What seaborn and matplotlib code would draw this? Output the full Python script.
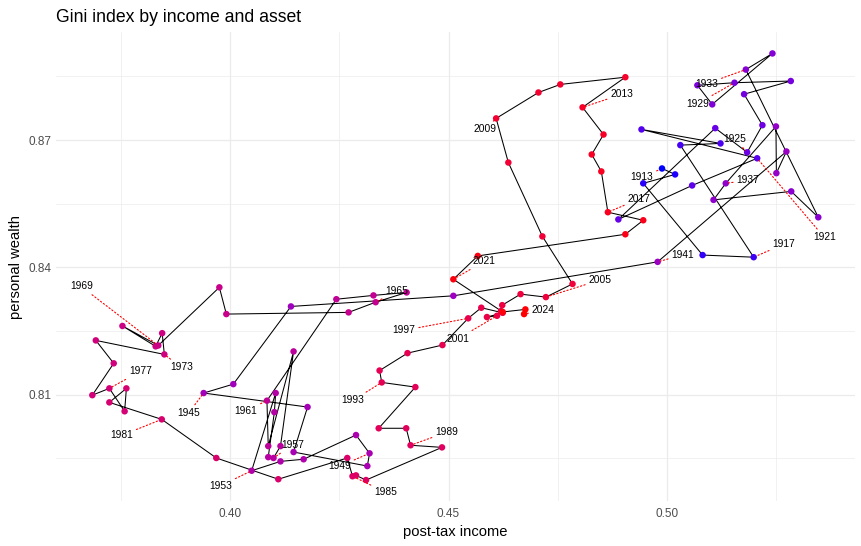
import numpy as np
import pandas as pd
import matplotlib
matplotlib.use('Agg')
import matplotlib.pyplot as plt
import seaborn as sns
from matplotlib.colors import LinearSegmentedColormap

# Datos: indice de Gini (renta post-impuestos vs patrimonio personal), 1913-2024
years = list(range(1913, 2025))

income = [
    0.4989, 0.5019, 0.4946, 0.5082, 0.5199, 0.5031, 0.5123, 0.4942, 0.5207, 0.5058,
    0.4889, 0.5111, 0.5184, 0.5219, 0.5177, 0.5284, 0.5155, 0.5070, 0.5104, 0.5242,
    0.5181, 0.5347, 0.5285, 0.5107, 0.5135, 0.5250, 0.5251, 0.5274, 0.4979, 0.4511,
    0.4139, 0.4007, 0.3939, 0.4177, 0.4145, 0.4314, 0.4319, 0.4288, 0.4168, 0.4115,
    0.4049, 0.4104, 0.4101, 0.4087, 0.4099, 0.4115, 0.4145, 0.4087, 0.4084, 0.4243,
    0.4328, 0.4404, 0.4333, 0.4271, 0.3991, 0.3975, 0.3835, 0.3753, 0.3829, 0.3844,
    0.3849, 0.3692, 0.3733, 0.3684, 0.3723, 0.3758, 0.3762, 0.3723, 0.3843, 0.3968,
    0.4110, 0.4268, 0.4280, 0.4288, 0.4311, 0.4485, 0.4413, 0.4403, 0.4340, 0.4424,
    0.4347, 0.4342, 0.4406, 0.4486, 0.4545, 0.4575, 0.4624, 0.4588, 0.4611, 0.4620,
    0.4623, 0.4665, 0.4723, 0.4784, 0.4715, 0.4637, 0.4609, 0.4706, 0.4756, 0.4905,
    0.4807, 0.4855, 0.4828, 0.4850, 0.4865, 0.4946, 0.4905, 0.4567, 0.4511, 0.4624,
    0.4676, 0.4673,
]

wealth = [
    0.8633, 0.8619, 0.8598, 0.8429, 0.8424, 0.8688, 0.8692, 0.8725, 0.8657, 0.8593,
    0.8513, 0.8728, 0.8671, 0.8735, 0.8808, 0.8839, 0.8835, 0.8829, 0.8784, 0.8904,
    0.8866, 0.8518, 0.8579, 0.8559, 0.8598, 0.8732, 0.8622, 0.8673, 0.8413, 0.8333,
    0.8308, 0.8125, 0.8104, 0.8071, 0.7965, 0.7932, 0.7962, 0.8005, 0.7948, 0.7943,
    0.7921, 0.8104, 0.8059, 0.7953, 0.7951, 0.7979, 0.8202, 0.7979, 0.8086, 0.8325,
    0.8334, 0.8341, 0.8318, 0.8294, 0.8290, 0.8353, 0.8216, 0.8262, 0.8214, 0.8245,
    0.8195, 0.8228, 0.8174, 0.8099, 0.8115, 0.8061, 0.8115, 0.8082, 0.8042, 0.7951,
    0.7901, 0.7951, 0.7908, 0.7910, 0.7899, 0.7976, 0.7981, 0.8021, 0.8021, 0.8118,
    0.8129, 0.8157, 0.8198, 0.8217, 0.8280, 0.8305, 0.8293, 0.8283, 0.8286, 0.8297,
    0.8311, 0.8337, 0.8330, 0.8361, 0.8473, 0.8647, 0.8751, 0.8812, 0.8831, 0.8848,
    0.8777, 0.8713, 0.8666, 0.8626, 0.8530, 0.8511, 0.8478, 0.8427, 0.8372, 0.8295,
    0.8301, 0.8290,
]

label_years = list(range(1913, 2024, 4)) + [2024]

# Desplazamiento de cada etiqueta respecto a su punto (pixeles, y hacia arriba)
label_offset = {
    1913: (-20, -9), 1917: (30, 13), 1921: (67, -79), 1925: (-12, 13),
    1929: (-37, -21), 1933: (-39, -14), 1937: (22, 3), 1941: (25, 7),
    1945: (-15, -20), 1949: (-30, -13), 1953: (-31, -15), 1957: (19, 13),
    1961: (-21, -10), 1965: (21, 11), 1969: (-77, 59), 1973: (17, -13),
    1977: (31, 17), 1981: (-40, -16), 1985: (33, -16), 1989: (36, 13),
    1993: (-29, -18), 1997: (-64, -12), 2001: (-39, -23), 2005: (54, 17),
    2009: (-11, -11), 2013: (39, 13), 2017: (31, 13), 2021: (31, 18),
    2024: (19, 4),
}

df = pd.DataFrame({'year': years, 'income': income, 'wealth': wealth})


def lab_gradient(c0, c1, n=256):
    """Gradiente interpolado en Lab (como scale_colour_gradient de ggplot)"""
    M = np.array([[0.4124, 0.3576, 0.1805],
                  [0.2126, 0.7152, 0.0722],
                  [0.0193, 0.1192, 0.9505]])
    white = np.array([0.95047, 1.0, 1.08883])

    def to_lab(rgb):
        rgb = np.asarray(rgb, float)
        lin = np.where(rgb <= 0.04045, rgb / 12.92, ((rgb + 0.055) / 1.055) ** 2.4)
        xyz = M @ lin / white
        f = np.where(xyz > 0.008856, np.cbrt(xyz), 7.787 * xyz + 16 / 116)
        return np.array([116 * f[1] - 16, 500 * (f[0] - f[1]), 200 * (f[1] - f[2])])

    def from_lab(lab):
        fy = (lab[0] + 16) / 116
        f = np.array([fy + lab[1] / 500, fy, fy - lab[2] / 200])
        xyz = np.where(f ** 3 > 0.008856, f ** 3, (f - 16 / 116) / 7.787) * white
        lin = np.clip(np.linalg.inv(M) @ xyz, 0, 1)
        rgb = np.where(lin <= 0.0031308, 12.92 * lin, 1.055 * lin ** (1 / 2.4) - 0.055)
        return np.clip(rgb, 0, 1)

    a, b = to_lab(c0), to_lab(c1)
    cols = [from_lab(a + (b - a) * t) for t in np.linspace(0, 1, n)]
    return LinearSegmentedColormap.from_list('blue_red', cols)


cmap = lab_gradient((0, 0, 1), (1, 0, 0))

sns.set_theme(style='whitegrid')
plt.rcParams['font.family'] = ['Liberation Sans', 'DejaVu Sans']

fig = plt.figure(figsize=(8.62, 5.46), dpi=100)
ax = fig.add_axes([0.065, 0.0817, 0.9264, 0.8595])

sns.lineplot(data=df, x='income', y='wealth', sort=False, estimator=None,
             color='black', linewidth=0.75, ax=ax, zorder=2)
sns.scatterplot(data=df, x='income', y='wealth', hue='year', palette=cmap,
                hue_norm=(1913, 2024), s=22, linewidth=0, legend=False,
                ax=ax, zorder=3)

# Etiquetas cada 4 anos con linea guia punteada
for yr in label_years:
    row = df[df['year'] == yr].iloc[0]
    dx, dy = label_offset[yr]
    ax.annotate(str(yr), xy=(row['income'], row['wealth']), xytext=(dx, dy),
                textcoords='offset pixels', ha='center', va='center',
                fontsize=7.4, color='black', zorder=5,
                arrowprops=dict(arrowstyle='-', color='red', lw=0.8,
                                linestyle=(0, (1.2, 2.0)), shrinkA=0, shrinkB=2))

# Limites con expansion del 5% como ggplot
xr = df['income'].max() - df['income'].min()
yr_ = df['wealth'].max() - df['wealth'].min()
ax.set_xlim(df['income'].min() - 0.05 * xr, df['income'].max() + 0.05 * xr)
ax.set_ylim(df['wealth'].min() - 0.05 * yr_, df['wealth'].max() + 0.05 * yr_)

ax.set_xticks([0.40, 0.45, 0.50])
ax.set_xticklabels(['0.40', '0.45', '0.50'])
ax.set_xticks([0.375, 0.425, 0.475, 0.525], minor=True)
ax.set_yticks([0.81, 0.84, 0.87])
ax.set_yticklabels(['0.81', '0.84', '0.87'])
ax.set_yticks([0.795, 0.825, 0.855, 0.885], minor=True)

ax.grid(which='major', color='#EBEBEB', linewidth=0.9)
ax.grid(which='minor', color='#EBEBEB', linewidth=0.5)
ax.set_facecolor('white')
for s in ax.spines.values():
    s.set_visible(False)
ax.tick_params(which='both', length=0, labelsize=8.5, labelcolor='#4D4D4D')
ax.tick_params(axis='x', pad=5)
ax.tick_params(axis='y', pad=3)

ax.set_xlabel('post-tax income', fontsize=10.6, color='black', labelpad=3)
ax.set_ylabel('personal wealth', fontsize=10.6, color='black', labelpad=4)

fig.text(56 / 862, 1 - 17 / 546, 'Gini index by income and asset',
         fontsize=12.7, ha='left', va='center', color='black')

fig.savefig('out.png', dpi=100, facecolor='white')
